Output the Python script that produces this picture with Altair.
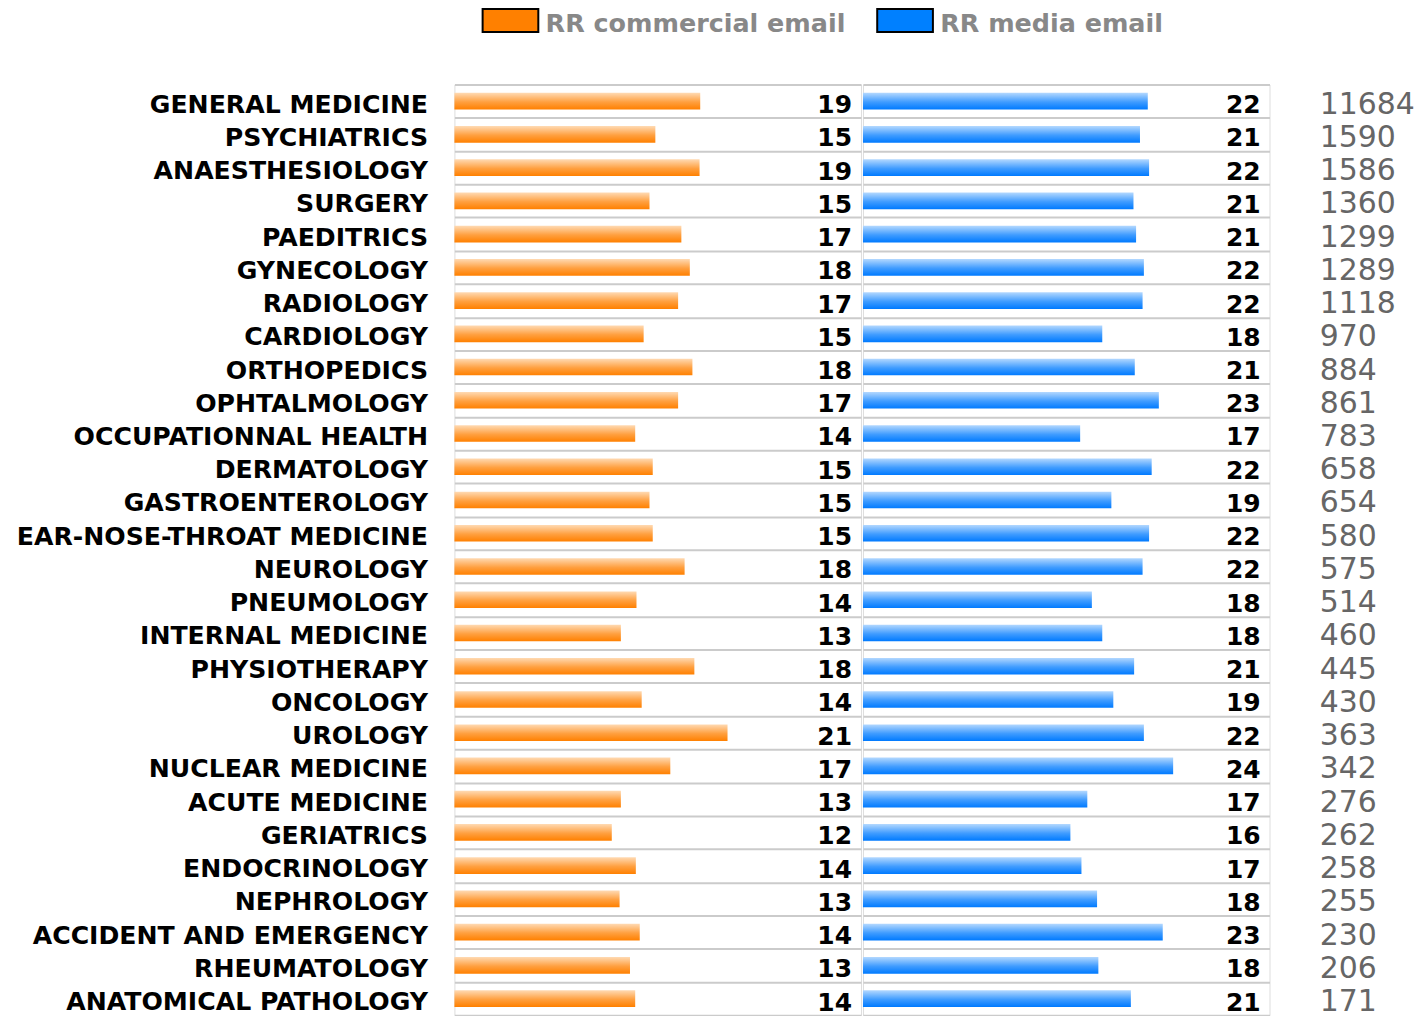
import altair as alt
import pandas as pd

categories = [
    "GENERAL MEDICINE", "PSYCHIATRICS", "ANAESTHESIOLOGY", "SURGERY", "PAEDITRICS",
    "GYNECOLOGY", "RADIOLOGY", "CARDIOLOGY", "ORTHOPEDICS", "OPHTALMOLOGY",
    "OCCUPATIONNAL HEALTH", "DERMATOLOGY", "GASTROENTEROLOGY", "EAR-NOSE-THROAT MEDICINE",
    "NEUROLOGY", "PNEUMOLOGY", "INTERNAL MEDICINE", "PHYSIOTHERAPY", "ONCOLOGY",
    "UROLOGY", "NUCLEAR MEDICINE", "ACUTE MEDICINE", "GERIATRICS", "ENDOCRINOLOGY",
    "NEPHROLOGY", "ACCIDENT AND EMERGENCY", "RHEUMATOLOGY", "ANATOMICAL PATHOLOGY",
]
commercial = [18.9, 15.45, 18.85, 15.0, 17.45, 18.1, 17.2, 14.55, 18.3, 17.2,
              13.9, 15.25, 15.0, 15.25, 17.7, 14.0, 12.8, 18.45, 14.4, 21.0,
              16.6, 12.8, 12.1, 13.95, 12.7, 14.25, 13.5, 13.9]
commercial_label = [19, 15, 19, 15, 17, 18, 17, 15, 18, 17, 14, 15, 15, 15, 18, 14,
                    13, 18, 14, 21, 17, 13, 12, 14, 13, 14, 13, 14]
media = [21.9, 21.3, 22.0, 20.8, 21.0, 21.6, 21.5, 18.4, 20.9, 22.75, 16.7, 22.2,
         19.1, 22.0, 21.5, 17.6, 18.4, 20.85, 19.25, 21.6, 23.85, 17.25, 15.95, 16.8,
         18.0, 23.05, 18.1, 20.6]
media_label = [22, 21, 22, 21, 21, 22, 22, 18, 21, 23, 17, 22, 19, 22, 22, 18, 18,
               21, 19, 22, 24, 17, 16, 17, 18, 23, 18, 21]
contacts = [11684, 1590, 1586, 1360, 1299, 1289, 1118, 970, 884, 861, 783, 658, 654,
            580, 575, 514, 460, 445, 430, 363, 342, 276, 262, 258, 255, 230, 206, 171]

series_names = ["RR commercial email", "RR media email"]
series_colors = ["#ff8000", "#0080ff"]

XMAX = 31.26
FONT = "DejaVu Sans"

df = pd.DataFrame({
    "cat": categories,
    "com": commercial,
    "com_lbl": commercial_label,
    "med": media,
    "med_lbl": media_label,
    "n": contacts,
})
legend_df = pd.DataFrame({"series": series_names})

orange_grad = alt.Gradient(
    gradient="linear", x1=0, x2=0, y1=0, y2=1,
    stops=[alt.GradientStop(offset=0, color="#ffdab3"),
           alt.GradientStop(offset=0.55, color="#ffa040"),
           alt.GradientStop(offset=1, color="#ff8000")],
)
blue_grad = alt.Gradient(
    gradient="linear", x1=0, x2=0, y1=0, y2=1,
    stops=[alt.GradientStop(offset=0, color="#b3d8ff"),
           alt.GradientStop(offset=0.55, color="#409cff"),
           alt.GradientStop(offset=1, color="#007aff")],
)

xscale = alt.Scale(domain=[0, XMAX], nice=False, zero=True)
yscale = alt.Scale(paddingInner=0, paddingOuter=0)

grid_opts = dict(grid=True, gridColor="#cbcbcb", gridWidth=2, tickBand="extent",
                 domain=False, ticks=False, title=None)

y_left = alt.Y("cat:N", sort=categories, scale=yscale,
               axis=alt.Axis(orient="left", labelFont=FONT, labelFontWeight="bold",
                             labelFontSize=25.25, labelColor="black", labelPadding=27,
                             labelOffset=3, labelLimit=700, **grid_opts))

cats_js = "[" + ",".join("'" + c + "'" for c in categories) + "]"
nums_js = "[" + ",".join("'" + str(n) + "'" for n in contacts) + "]"
y_right = alt.Y("cat:N", sort=categories, scale=yscale,
                axis=alt.Axis(orient="right", labelFont=FONT, labelFontWeight="normal",
                              labelFontSize=30, labelColor="#666666", labelPadding=50,
                              labelOffset=3, labelAlign="left", labelLimit=300,
                              labelExpr=nums_js + "[indexof(" + cats_js + ", datum.value)]",
                              **grid_opts))

text_style = dict(align="right", baseline="middle", dx=-9, dy=4, font=FONT,
                  fontWeight="bold", fontSize=25, color="black")

left_bars = alt.Chart(df).mark_bar(color=orange_grad, height=alt.RelativeBandSize(0.5)).encode(
    x=alt.X("com:Q", scale=xscale, axis=None), y=y_left)
left_text = alt.Chart(df).mark_text(**text_style).encode(
    x=alt.datum(XMAX), y=alt.Y("cat:N", sort=categories), text="com_lbl:Q")
legend_layer = alt.Chart(legend_df).mark_point(filled=True).encode(
    color=alt.Color("series:N", scale=alt.Scale(domain=series_names, range=series_colors),
                    legend=alt.Legend(
                        orient="none", legendX=43.5, legendY=-74, direction="horizontal",
                        title=None, padding=0,
                        symbolType="M-2.43,-1.3L2.43,-1.3L2.43,0.7L-2.43,0.7Z",
                        symbolSize=529, symbolStrokeColor="black", symbolStrokeWidth=2,
                        symbolOpacity=1, labelFont=FONT, labelFontWeight="bold",
                        labelFontSize=25.5, labelColor="#888888", labelOffset=22.5,
                        columnPadding=26, labelLimit=600)),
).transform_filter("false")

left = alt.layer(left_bars, left_text, legend_layer).properties(width=408, height=934)

right_bars = alt.Chart(df).mark_bar(color=blue_grad, height=alt.RelativeBandSize(0.5)).encode(
    x=alt.X("med:Q", scale=xscale, axis=None), y=y_right)
right_text = alt.Chart(df).mark_text(**text_style).encode(
    x=alt.datum(XMAX), y=alt.Y("cat:N", sort=categories), text="med_lbl:Q")
right = alt.layer(right_bars, right_text).properties(width=408, height=934)

chart = alt.hconcat(left, right, spacing=0).properties(
    padding={"left": 7, "top": 1, "right": 0, "bottom": 0}
).configure_view(stroke="#c0c0c0", strokeWidth=1.5).configure(background="white")

chart.save("out.html", embed_options={"renderer": "svg", "actions": False})
